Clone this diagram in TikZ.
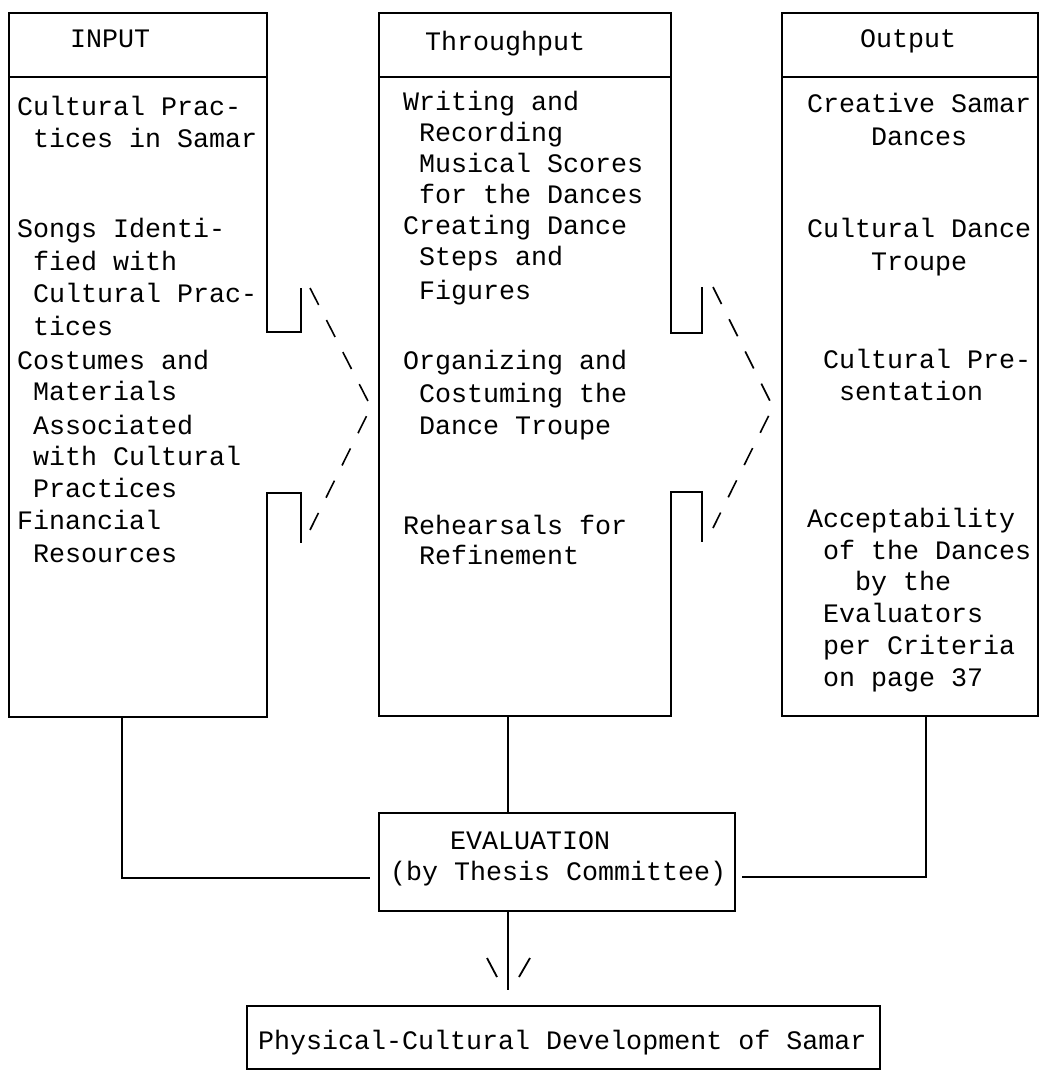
\documentclass[tikz,border=0pt]{standalone}
\usepackage{fontspec}
\setmonofont{Liberation Mono}
\begin{document}
\begin{tikzpicture}[x=1pt,y=-1pt,
  ln/.style={draw=black,line width=1.8pt},
  boxnode/.style={ln,inner sep=0pt,anchor=north west},
  txt/.style={font=\ttfamily\fontsize{26.67}{32}\selectfont,inner sep=0pt,anchor=base west,text=black},
  dsh/.style={draw=black,line width=1.6pt,dash pattern=on 19pt off 17pt}]
\useasboundingbox (0,0) rectangle (1041,1077);

% ---------- INPUT column ----------
\draw[ln] (301,288) -- (301,332) -- (267,332) -- (267,13) -- (9,13) -- (9,717)
          -- (267,717) -- (267,493) -- (301,493) -- (301,543);
\draw[ln] (9,77) -- (267,77);
\coordinate (aTop) at (310,288);
\coordinate (aTip) at (371,407);
\coordinate (aBot) at (310,530);
\draw[dsh] (aTop) -- (aTip) -- (aBot);

\node[txt] (i1) at (70,47) {INPUT};
\node[txt] (i2) at (17,115) {Cultural Prac-};
\node[txt] (i3) at (33,147) {tices in Samar};
\node[txt] (i4) at (17,237) {Songs Identi-};
\node[txt] (i5) at (33,270) {fied with};
\node[txt] (i6) at (33,302) {Cultural Prac-};
\node[txt] (i7) at (33,335) {tices};
\node[txt] (i8) at (17,369) {Costumes and};
\node[txt] (i9) at (33,400) {Materials};
\node[txt] (i10) at (33,434) {Associated};
\node[txt] (i11) at (33,465) {with Cultural};
\node[txt] (i12) at (33,497) {Practices};
\node[txt] (i13) at (17,529) {Financial};
\node[txt] (i14) at (33,562) {Resources};

% ---------- THROUGHPUT column ----------
\draw[ln] (702,287) -- (702,333) -- (671,333) -- (671,13) -- (379,13) -- (379,716)
          -- (671,716) -- (671,492) -- (702,492) -- (702,542);
\draw[ln] (379,77) -- (671,77);
\coordinate (bTop) at (713,287);
\coordinate (bTip) at (773,407);
\coordinate (bBot) at (713,528);
\draw[dsh] (bTop) -- (bTip) -- (bBot);

\node[txt] (t1) at (425,50) {Throughput};
\node[txt] (t2) at (403,110) {Writing and};
\node[txt] (t3) at (419,141) {Recording};
\node[txt] (t4) at (419,172) {Musical Scores};
\node[txt] (t5) at (419,203) {for the Dances};
\node[txt] (t6) at (403,234) {Creating Dance};
\node[txt] (t7) at (419,265) {Steps and};
\node[txt] (t8) at (419,299) {Figures};
\node[txt] (t9) at (403,369) {Organizing and};
\node[txt] (t10) at (419,402) {Costuming the};
\node[txt] (t11) at (419,434) {Dance Troupe};
\node[txt] (t12) at (403,534) {Rehearsals for};
\node[txt] (t13) at (419,564) {Refinement};

% ---------- OUTPUT column ----------
\draw[ln] (782,13) rectangle (1038,716);
\draw[ln] (782,77) -- (1038,77);

\node[txt] (o1) at (860,47) {Output};
\node[txt] (o2) at (807,112) {Creative Samar};
\node[txt] (o3) at (871,145) {Dances};
\node[txt] (o4) at (807,237) {Cultural Dance};
\node[txt] (o5) at (871,270) {Troupe};
\node[txt] (o6) at (823,368) {Cultural Pre-};
\node[txt] (o7) at (839,400) {sentation};
\node[txt] (o8) at (807,527) {Acceptability};
\node[txt] (o9) at (823,559) {of the Dances};
\node[txt] (o10) at (855,590) {by the};
\node[txt] (o11) at (823,622) {Evaluators};
\node[txt] (o12) at (823,654) {per Criteria};
\node[txt] (o13) at (823,686) {on page 37};

% ---------- EVALUATION ----------
\node[boxnode,minimum width=356pt,minimum height=98pt] (eval) at (378,812) {};
\node[txt] (e1) at (450,849) {EVALUATION};
\node[txt] (e2) at (390,880) {(by Thesis Committee)};

% ---------- RESULT ----------
\node[boxnode,minimum width=633pt,minimum height=63pt] (phys) at (246,1005) {};
\node[txt] (p1) at (258,1049) {Physical-Cultural Development of Samar};

% ---------- connectors ----------
\coordinate (inB) at (122,717);
\coordinate (inE) at (370,878);
\draw[ln] (inB) |- (inE);

\coordinate (thB) at (508,716);
\draw[ln] (thB) -- (thB |- eval.north);

\coordinate (outB) at (926,716);
\coordinate (outE) at (742,877);
\draw[ln] (outB) |- (outE);

\coordinate (arrT) at (508,990);
\draw[ln] (thB |- eval.south) -- (arrT);
\coordinate (hl1) at (487,958);
\coordinate (hl2) at (497,977);
\coordinate (hr1) at (530,958);
\coordinate (hr2) at (519,977);
\draw[ln] (hl1) -- (hl2);
\draw[ln] (hr1) -- (hr2);
\end{tikzpicture}
\end{document}
